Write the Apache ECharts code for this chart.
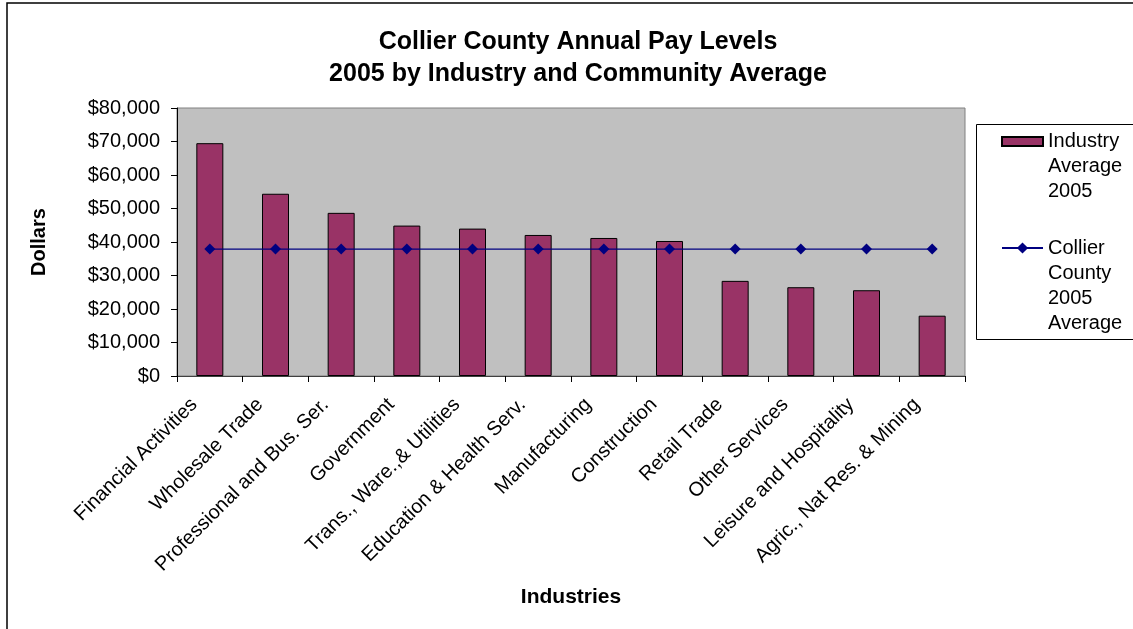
<!DOCTYPE html>
<html>
<head>
<meta charset="utf-8">
<script src="https://cdn.jsdelivr.net/npm/echarts@6/dist/echarts.min.js"></script>
<style>
html,body{margin:0;padding:0;background:#fff;}
#chart{width:1133px;height:629px;}
</style>
</head>
<body>
<div id="chart"></div>
<script>
const categories = ["Financial Activities", "Wholesale Trade", "Professional and Bus. Ser.", "Government", "Trans., Ware.,& Utilities", "Education & Health Serv.", "Manufacturing", "Construction", "Retail Trade", "Other Services", "Leisure and Hospitality", "Agric., Nat Res. & Mining"];
const industryAverage = [69500, 54400, 48700, 44900, 44000, 42100, 41200, 40300, 28400, 26500, 25600, 18000];
const countyAverage = [37900, 37900, 37900, 37900, 37900, 37900, 37900, 37900, 37900, 37900, 37900, 37900];
const yTicks = {min: 0, max: 80000, interval: 10000};
const seriesNames = ["Industry Average 2005", "Collier County 2005 Average"];

const FONT = '"Liberation Sans", Arial, sans-serif';
const chart = echarts.init(document.getElementById('chart'), null, {renderer: 'canvas'});
chart.setOption({
  animation: false,
  backgroundColor: '#fff',
  textStyle: {fontFamily: FONT},
  title: {
    text: 'Collier County Annual Pay Levels\n2005 by Industry and Community Average',
    left: 573, top: 21, textAlign: 'center',
    textStyle: {fontFamily: FONT, fontSize: 25, fontWeight: 'bold', color: '#000', lineHeight: 32}
  },
  graphic: [
    {type: 'rect', z: -10, silent: true, shape: {x: 7, y: 3, width: 1200, height: 700}, style: {fill: 'none', stroke: '#000', lineWidth: 1.5}},
    {type: 'rect', z: -5, silent: true, shape: {x: 976.5, y: 124.5, width: 200, height: 215}, style: {fill: '#fff', stroke: '#000', lineWidth: 1}}
  ],
  legend: [
    {
      data: [{name: seriesNames[0], icon: 'rect'}],
      left: 1001, top: 79, padding: 0, orient: 'vertical',
      itemWidth: 41, itemHeight: 9,
      formatter: () => '\n\nIndustry\nAverage\n2005',
      textStyle: {fontFamily: FONT, fontSize: 20, color: '#000', lineHeight: 25}
    },
    {
      data: [seriesNames[1]],
      left: 1001, top: 160.5, padding: 0, orient: 'vertical',
      itemWidth: 41, itemHeight: 14,
      formatter: () => '\n\n\nCollier\nCounty\n2005\nAverage',
      textStyle: {fontFamily: FONT, fontSize: 20, color: '#000', lineHeight: 25}
    }
  ],
  grid: {
    left: 177, right: 168, top: 108, bottom: 253,
    show: true, backgroundColor: '#C0C0C0', borderColor: '#808080', borderWidth: 1
  },
  xAxis: {
    type: 'category', data: categories, boundaryGap: true,
    name: 'Industries', nameLocation: 'middle', nameGap: 211,
    nameTextStyle: {fontFamily: FONT, fontSize: 21, fontWeight: 'bold', color: '#000'},
    axisLine: {lineStyle: {color: '#404040', width: 1}},
    axisTick: {show: true, length: 6, inside: false, lineStyle: {color: '#000'}},
    axisLabel: {interval: 0, rotate: 45, margin: 10, padding: [0, 22, 0, 0], fontFamily: FONT, fontSize: 20, color: '#000'},
    splitLine: {show: false}
  },
  yAxis: {
    type: 'value', min: yTicks.min, max: yTicks.max, interval: yTicks.interval,
    name: 'Dollars', nameLocation: 'middle', nameGap: 128, nameRotate: 90,
    nameTextStyle: {fontFamily: FONT, fontSize: 20, fontWeight: 'bold', color: '#000'},
    axisLine: {show: true, lineStyle: {color: '#000', width: 1}},
    axisTick: {show: true, length: 6, inside: false, lineStyle: {color: '#000'}},
    axisLabel: {margin: 17, fontFamily: FONT, fontSize: 20, color: '#000',
      formatter: v => '$' + v.toLocaleString('en-US')},
    splitLine: {show: false}
  },
  series: [
    {
      name: seriesNames[0], type: 'bar', data: industryAverage, barWidth: 27,
      itemStyle: {color: '#993366', borderColor: '#000', borderWidth: 1}
    },
    {
      name: seriesNames[1], type: 'line', data: countyAverage,
      symbol: 'diamond', symbolSize: 11,
      lineStyle: {color: '#000080', width: 1.2},
      itemStyle: {color: '#000080'}
    }
  ]
});
</script>
</body>
</html>
